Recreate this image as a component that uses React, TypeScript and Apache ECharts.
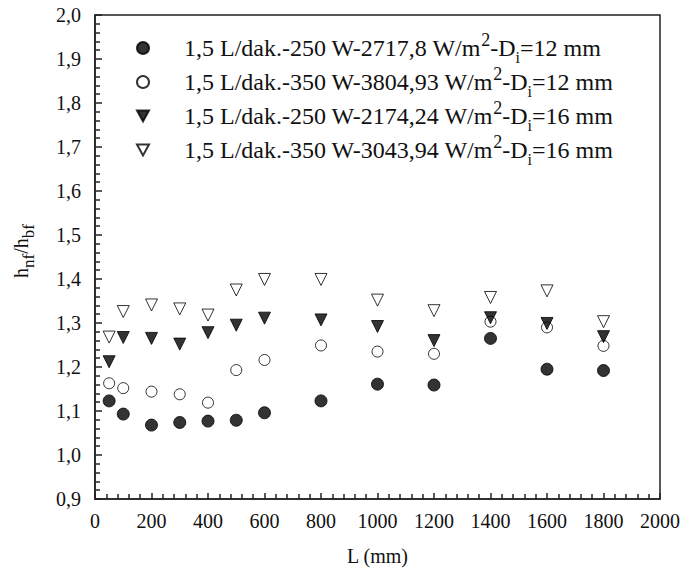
import React, { useEffect, useRef } from "react";
import * as echarts from "echarts";

const lengths = [50, 100, 200, 300, 400, 500, 600, 800, 1000, 1200, 1400, 1600, 1800];
const s250d12 = [1.123, 1.093, 1.068, 1.074, 1.077, 1.079, 1.096, 1.123, 1.161, 1.159, 1.265, 1.195, 1.192];
const s350d12 = [1.163, 1.152, 1.144, 1.138, 1.119, 1.193, 1.216, 1.249, 1.235, 1.23, 1.303, 1.29, 1.248];
const s250d16 = [1.212, 1.267, 1.265, 1.252, 1.278, 1.295, 1.311, 1.307, 1.292, 1.26, 1.312, 1.299, 1.269];
const s350d16 = [1.268, 1.326, 1.341, 1.332, 1.318, 1.375, 1.399, 1.399, 1.352, 1.328, 1.358, 1.373, 1.303];

const legendMain = [
  "1,5 L/dak.-250 W-2717,8 W/m",
  "1,5 L/dak.-350 W-3804,93 W/m",
  "1,5 L/dak.-250 W-2174,24 W/m",
  "1,5 L/dak.-350 W-3043,94 W/m",
];
const legendDi = ["12", "12", "16", "16"];

const FONT = "Liberation Serif";
const DOWN_TRI = "path://M0,0 L10,0 L5,9 Z";

export default function App() {
  const ref = useRef<HTMLDivElement>(null);
  useEffect(() => {
    if (!ref.current) return;
    const chart = echarts.init(ref.current, null, { renderer: "svg" });
    const names = legendMain.map((m, i) => `${m}2-Di=${legendDi[i]} mm`);
    const richFor = (name: string) => {
      const i = names.indexOf(name);
      return `{a|${legendMain[i]}}{sup|2}{a|-D}{sub|i}{a|=${legendDi[i]} mm}`;
    };
    const mk = (vals: number[]) => lengths.map((x, i) => [x, vals[i]]);
    const styles = [
      { symbol: "circle", size: 12, rotate: 0, fill: "#000", icon: "circle" },
      { symbol: "circle", size: 11, rotate: 0, fill: "#fff", icon: "circle" },
      { symbol: "triangle", size: 12, rotate: 180, fill: "#000", icon: DOWN_TRI },
      { symbol: "triangle", size: 12, rotate: 180, fill: "#fff", icon: DOWN_TRI },
    ];
    const data = [s250d12, s350d12, s250d16, s350d16];
    const series = data.map((vals, i) => ({
      name: names[i],
      type: "scatter",
      data: mk(vals),
      symbol: styles[i].symbol,
      symbolSize: styles[i].size,
      symbolRotate: styles[i].rotate,
      itemStyle: { color: styles[i].fill, borderColor: "#000", borderWidth: 1 },
    }));
    chart.setOption({
      animation: false,
      backgroundColor: "#fff",
      grid: { left: 95, right: 24, top: 15, bottom: 80, show: true, borderColor: "#222", borderWidth: 1.5 },
      legend: {
        orient: "vertical",
        left: 131,
        top: 26,
        itemWidth: 12,
        itemHeight: 12,
        itemGap: 0,
        data: names.map((n, i) => ({ name: n, icon: styles[i].icon })),
        formatter: richFor,
        textStyle: {
          padding: [0, 0, 0, 30],
          lineHeight: 34,
          rich: {
            a: { fontFamily: FONT, fontSize: 24, color: "#111", lineHeight: 34, verticalAlign: "middle" },
            sup: { fontFamily: FONT, fontSize: 18, color: "#111", lineHeight: 17, verticalAlign: "top" },
            sub: { fontFamily: FONT, fontSize: 16, color: "#111", lineHeight: 22, verticalAlign: "bottom" },
          },
        },
      },
      xAxis: {
        type: "value",
        min: 0,
        max: 2000,
        interval: 200,
        name: "L (mm)",
        nameLocation: "middle",
        nameGap: 47,
        nameTextStyle: { fontFamily: FONT, fontSize: 20, color: "#111" },
        axisLine: { lineStyle: { color: "#222", width: 1.5 } },
        axisTick: { inside: true, length: 6, lineStyle: { color: "#222", width: 1.5 } },
        minorTick: { show: true, splitNumber: 5, length: 5, lineStyle: { color: "#222", width: 1.5 } },
        splitLine: { show: false },
        axisLabel: { fontFamily: FONT, fontSize: 20, color: "#111", margin: 12, formatter: (v: number) => String(v) },
      },
      yAxis: {
        type: "value",
        min: 0.9,
        max: 2.0,
        interval: 0.1,
        name: "{a|h}{s|nf}{a|/h}{s|bf}",
        nameLocation: "middle",
        nameGap: 58,
        nameTextStyle: {
          padding: [0, 0, 0, 12],
          rich: {
            a: { fontFamily: FONT, fontSize: 20, color: "#111", lineHeight: 26, verticalAlign: "top" },
            s: { fontFamily: FONT, fontSize: 17, color: "#111", lineHeight: 20, verticalAlign: "bottom" },
          },
        },
        axisLine: { lineStyle: { color: "#222", width: 1.5 } },
        axisTick: { inside: true, length: 7, lineStyle: { color: "#222", width: 1.5 } },
        minorTick: { show: true, splitNumber: 5, length: 5, lineStyle: { color: "#222", width: 1.5 } },
        splitLine: { show: false },
        axisLabel: {
          fontFamily: FONT,
          fontSize: 20,
          color: "#111",
          margin: 14,
          formatter: (v: number) => v.toFixed(1).replace(".", ","),
        },
      },
      series,
    });
    return () => chart.dispose();
  }, []);
  return <div ref={ref} style={{ position: "absolute", left: 0, top: 0, width: 684, height: 579 }} />;
}
